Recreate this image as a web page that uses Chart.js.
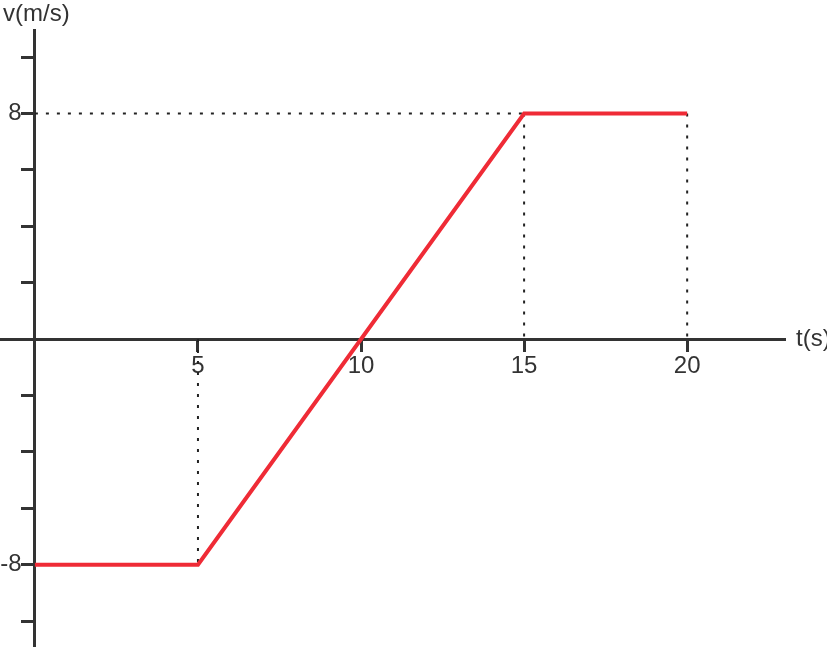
<!DOCTYPE html>
<html>
<head>
<meta charset="utf-8">
<script src="https://cdn.jsdelivr.net/npm/chart.js@4.4.1/dist/chart.umd.min.js"></script>
<style>
  html, body { margin: 0; padding: 0; background: #fff; }
  #wrap { width: 827px; height: 647px; }
</style>
</head>
<body>
<div id="wrap"><canvas id="vtChart"></canvas></div>
<script>
// Dados do gráfico v x t
const tempos = [0, 5, 15, 20];          // t (s)
const velocidades = [-8, -8, 8, 8];     // v (m/s)
const ticksX = [5, 10, 15, 20];
const rotulosY = [8, -8];
const tituloX = 't(s)';
const tituloY = 'v(m/s)';

const eixo = '#333333';
const fonte = 'Liberation Sans, Arial, sans-serif';

// Linhas pontilhadas de referência (a partir dos pontos da curva)
const guias = [
  [{x: 0, y: velocidades[2]}, {x: tempos[2], y: velocidades[2]}],
  [{x: tempos[2], y: velocidades[2]}, {x: tempos[2], y: 0}],
  [{x: tempos[3], y: velocidades[3]}, {x: tempos[3], y: 0}],
  [{x: tempos[1], y: 0}, {x: tempos[1], y: velocidades[1]}]
];

const datasets = guias.map(pts => ({
  data: pts,
  borderColor: '#222',
  borderWidth: 2,
  borderDash: [3, 8],
  pointRadius: 0,
  order: 2
}));

datasets.push({
  label: 'v',
  data: tempos.map((t, i) => ({x: t, y: velocidades[i]})),
  borderColor: '#ef2b36',
  borderWidth: 4,
  pointRadius: 0,
  order: 1
});

// Títulos dos eixos
const titulos = {
  id: 'titulos',
  afterDraw(chart) {
    const c = chart.ctx;
    const sx = chart.scales.x, sy = chart.scales.y;
    c.save();
    c.fillStyle = eixo;
    c.font = '24px ' + fonte;
    c.textBaseline = 'middle';
    c.textAlign = 'left';
    c.fillText(tituloX, sx.right + 11, sy.getPixelForValue(0));
    c.textBaseline = 'top';
    c.fillText(tituloY, 3, 2);
    c.restore();
  }
};

// eixos cruzados: não reservam espaço nem margem
function semEspaco(s) {
  if (s.isHorizontal()) s.height = 0; else s.width = 0;
  s.paddingTop = s.paddingBottom = s.paddingLeft = s.paddingRight = 0;
}

const ctx = document.getElementById('vtChart').getContext('2d');
new Chart(ctx, {
  type: 'line',
  data: { datasets: datasets },
  options: {
    responsive: true,
    maintainAspectRatio: false,
    animation: false,
    layout: { padding: { left: 0, right: 42, top: 30, bottom: 0 } },
    plugins: { legend: { display: false }, tooltip: { enabled: false } },
    scales: {
      x: {
        type: 'linear',
        position: { y: 0 },
        min: -1.07,
        max: 23.0,
        afterBuildTicks: (s) => { s.ticks = ticksX.map(v => ({value: v})); },
        afterFit: semEspaco,
        border: { display: true, color: eixo, width: 3 },
        grid: { drawOnChartArea: false, drawTicks: true, tickLength: 11, tickWidth: 3, tickColor: eixo },
        ticks: { color: eixo, padding: 2, font: { family: fonte, size: 24 }, maxRotation: 0 }
      },
      y: {
        type: 'linear',
        position: { x: 0 },
        min: -10.92,
        max: 10.96,
        afterFit: semEspaco,
        ticks: {
          stepSize: 2,
          includeBounds: false,
          color: eixo,
          font: { family: fonte, size: 24 },
          // espaços no fim afastam o rótulo do traço (alinhado à direita)
          callback: (v) => rotulosY.includes(v) ? String(v) + '  ' : ''
        },
        border: { display: true, color: eixo, width: 3 },
        grid: { drawOnChartArea: false, drawTicks: true, tickLength: 12, tickWidth: 3, tickColor: eixo }
      }
    }
  },
  plugins: [titulos]
});
</script>
</body>
</html>
